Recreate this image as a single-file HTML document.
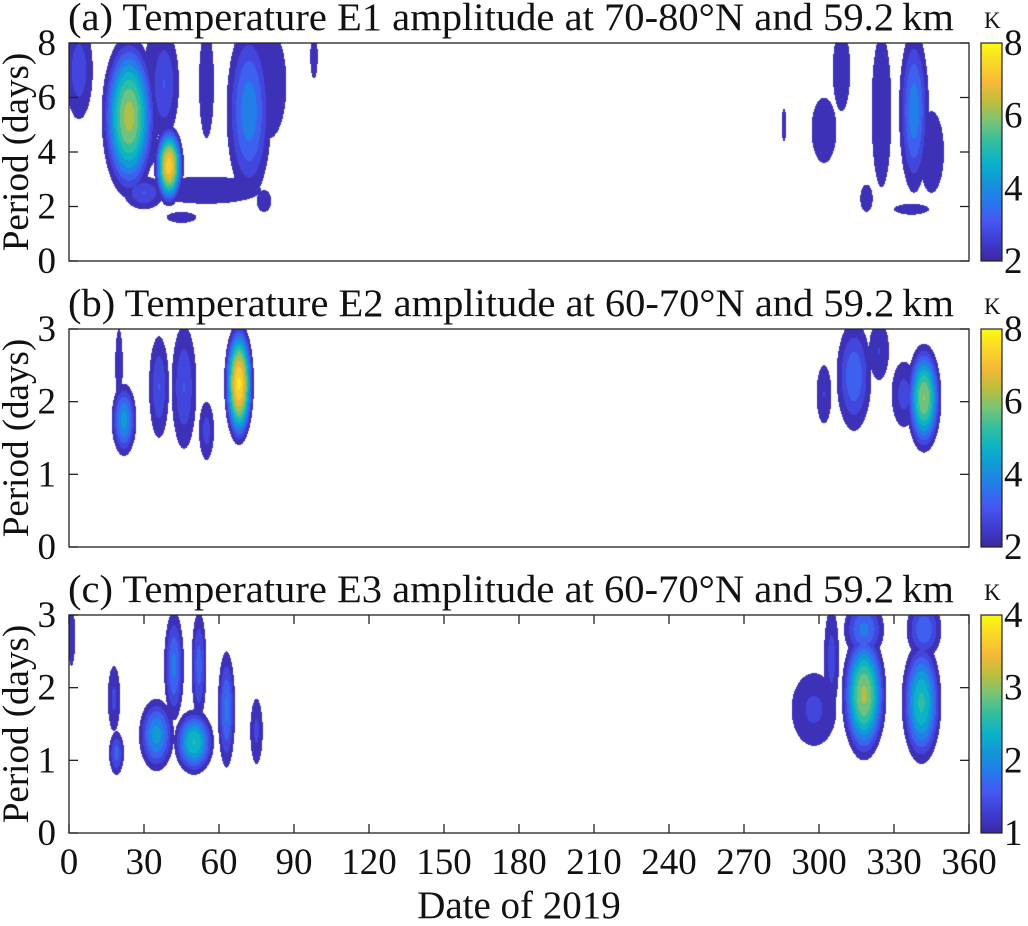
<!DOCTYPE html>
<html><head><meta charset="utf-8">
<style>
body{margin:0;background:#fff;width:1028px;height:926px;overflow:hidden;font-family:"Liberation Serif",serif;}
#wrap{position:relative;width:1028px;height:926px;}
canvas{position:absolute;}
svg{position:absolute;left:0;top:0;}
</style></head><body>
<div id="wrap">
<canvas id="ca" width="900" height="218" style="left:69px;top:43px"></canvas>
<canvas id="cb" width="900" height="218" style="left:69px;top:329px"></canvas>
<canvas id="cc" width="900" height="218" style="left:69px;top:615px"></canvas>
<svg id="sv" width="1028" height="926"></svg>
</div>
<script>
// spectral regions per panel: center day, center period, peak amplitude (K), half-extent in days, half-extent in period
const aDays=[4,24,30,40,38,33,55,72,80,55,45,78,98,286,302,309,325,338,345,319,337];
const aPers=[7,5.3,2.5,3.5,6.5,6,6.5,5.5,6.5,2.6,1.6,2.2,7.5,5,4.8,7,5.5,5.5,4,2.3,1.9];
const aAmps=[2.8,6.2,3,7.3,3,2.3,2.3,3.8,2.4,2.4,2.2,2.3,2.2,2.1,2.3,2.3,2.3,3.8,2.3,2.1,2.1];
const aDw=[5.5,11,8,6,6,3,3,9,7,22,6,3,1.5,1,5,3.5,4,6,5,2.5,7];
const aPw=[1.8,3,0.6,1.5,2,2.5,2,3.2,2,0.5,0.2,0.4,0.8,0.6,1.2,1.5,2.8,3,1.5,0.5,0.2];
const bDays=[22,20,36,46,55,68,302,314,324,334,342];
const bPers=[1.75,2.5,2.2,2.2,1.6,2.25,2.1,2.35,2.7,2.1,2.05];
const bAmps=[4.2,2.2,3,3,2.7,7.6,2.5,3.4,2.5,2.7,6];
const bDw=[5,1.5,4,5,3,6,3,7,4,5,7];
const bPw=[0.5,0.5,0.7,0.85,0.4,0.85,0.4,0.75,0.4,0.45,0.75];
const cDays=[1,18,19,35,42,52,50,63,75,298,305,318,318,341,342];
const cPers=[2.7,1.85,1.1,1.35,2.3,2.3,1.25,1.7,1.4,1.7,2.4,1.9,2.8,1.8,2.8];
const cAmps=[1.2,1.3,1.6,2.1,1.8,1.6,2.5,1.8,1.3,1.3,1.35,3.05,1.8,2.55,1.7];
const cDw=[1.5,2.5,3,7,4,3,8,3.5,2.5,9,3,9,8,8,7];
const cPw=[0.4,0.45,0.3,0.5,0.75,0.75,0.45,0.8,0.45,0.5,0.7,0.9,0.4,0.85,0.4];
const xTicks=[0,30,60,90,120,150,180,210,240,270,300,330,360];

const PAR=[[58,42,160],[64,60,210],[70,86,240],[40,120,235],[18,150,215],[10,178,200],[50,190,160],[120,195,120],[190,190,60],[245,185,55],[250,215,40],[249,251,14]];
function parula(t){t=Math.max(0,Math.min(1,t));const f=t*(PAR.length-1),i=Math.floor(f),r=f-i;const a=PAR[i],b=PAR[Math.min(i+1,PAR.length-1)];return 'rgb('+a.map((v,k)=>Math.round(v+(b[k]-v)*r)).join(',')+')';}

function drawField(id,days,pers,amps,dw,pw,pmax,vmin,vmax,step){
  const cv=document.getElementById(id),ctx=cv.getContext('2d');
  const W=900,H=218;
  for(let x=0;x<W;x++){const d=(x+0.5)/2.5;
    for(let y=0;y<H;y++){const p=(H-y-0.5)/H*pmax;
      let v=-1;for(let k=0;k<days.length;k++){const dx=(d-days[k])/dw[k],dy=(p-pers[k])/pw[k];const r2=dx*dx+dy*dy;if(r2>1)continue;
        const g=vmin+0.01+(amps[k]-vmin)*Math.pow(1-r2,1.5);if(g>v)v=g;}
      if(v<vmin)continue;const n=(vmax-vmin)/step;const lev=Math.min(n-1,Math.floor((v-vmin)/step));
      ctx.fillStyle=parula((lev+0.5)/n);ctx.fillRect(x,y,1,1);}}
}
drawField('ca',aDays,aPers,aAmps,aDw,aPw,8,2,8,0.5);
drawField('cb',bDays,bPers,bAmps,bDw,bPw,3,2,8,0.5);
drawField('cc',cDays,cPers,cAmps,cDw,cPw,3,1,4,0.25);

const S=document.getElementById('sv'),NS='http://www.w3.org/2000/svg';
function el(t,a,txt){const e=document.createElementNS(NS,t);for(const k in a)e.setAttribute(k,a[k]);if(txt!==undefined)e.textContent=txt;S.appendChild(e);return e;}
const defs=el('defs',{});const lg=document.createElementNS(NS,'linearGradient');lg.setAttribute('id','pg');lg.setAttribute('x1','0');lg.setAttribute('y1','1');lg.setAttribute('x2','0');lg.setAttribute('y2','0');
PAR.forEach((c,i)=>{const s=document.createElementNS(NS,'stop');s.setAttribute('offset',i/(PAR.length-1));s.setAttribute('stop-color','rgb('+c.join(',')+')');lg.appendChild(s);});defs.appendChild(lg);

const panels=[
 {top:43,pmax:8,yt:[0,2,4,6,8],cb:['2','4','6','8'],title:'(a) Temperature E1 amplitude at 70-80°N and 59.2\u2009km',name:'a'},
 {top:329,pmax:3,yt:[0,1,2,3],cb:['2','4','6','8'],title:'(b) Temperature E2 amplitude at 60-70°N and 59.2\u2009km',name:'b'},
 {top:615,pmax:3,yt:[0,1,2,3],cb:['1','2','3','4'],title:'(c) Temperature E3 amplitude at 60-70°N and 59.2\u2009km',name:'c'}];
const L=69,R=969,H=218;
panels.forEach(P=>{
  const t=P.top,b=t+H;
  let e=el('rect',{x:L,y:t,width:R-L,height:H,fill:'none',stroke:'#222','stroke-width':1.3});
  
  e=el('text',{x:511,y:t-13,'text-anchor':'middle','font-size':39,textLength:886,lengthAdjust:'spacingAndGlyphs',fill:'#111'},P.title);
  
  P.yt.forEach(v=>{const y=b-v/P.pmax*H;
    el('line',{x1:L,y1:y,x2:L+9,y2:y,stroke:'#222','stroke-width':1.3});
    el('line',{x1:R,y1:y,x2:R-9,y2:y,stroke:'#222','stroke-width':1.3});
    e=el('text',{x:56,y:y+12,'text-anchor':'end','font-size':37,fill:'#111'},String(v));
    });
  e=el('text',{x:0,y:0,'text-anchor':'middle','font-size':37,fill:'#111',transform:'translate(28,'+(t+H/2)+') rotate(-90)'},'Period (days)');
  
  e=el('rect',{x:981,y:t,width:21,height:H,fill:'url(#pg)',stroke:'#222','stroke-width':1.2});
  
  P.cb.forEach((s,i)=>{const y=b-i/(P.cb.length-1)*H;
    e=el('text',{x:1004,y:y+12,'font-size':37,fill:'#111'},s);
    });
  e=el('text',{x:984,y:t-15,'font-size':23,fill:'#111'},'K');
  
});
const cb=615+H;
xTicks.forEach(v=>{const x=L+v/360*(R-L);
  el('line',{x1:x,y1:cb,x2:x,y2:cb-9,stroke:'#222','stroke-width':1.3});
  el('line',{x1:x,y1:615,x2:x,y2:624,stroke:'#222','stroke-width':1.3});
  const e=el('text',{x:x,y:874,'text-anchor':'middle','font-size':37,fill:'#111'},String(v));
  });
const xt=el('text',{x:519,y:918,'text-anchor':'middle','font-size':39,fill:'#111'},'Date of 2019');

</script>
</body></html>
